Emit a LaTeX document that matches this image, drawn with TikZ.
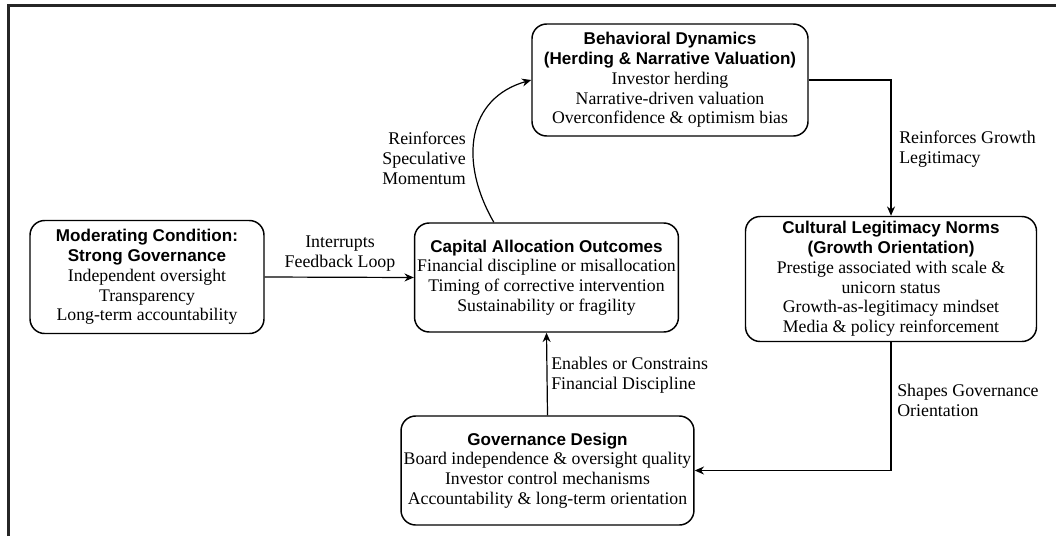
\documentclass[tikz,border=0pt]{standalone}
\usepackage{fontspec}
\setmainfont{Liberation Serif}
\newfontfamily\hdfont{Liberation Sans}
\usetikzlibrary{arrows.meta,calc}
\newcommand{\hd}[1]{{\hdfont\bfseries\fontsize{12.8}{14.8}\selectfont #1}}
\begin{document}
\begin{tikzpicture}[x=0.75pt,y=-0.75pt,
  box/.style={draw,line width=1.1pt,rounded corners=11pt,align=center,inner sep=2pt,
    font=\fontsize{13.3}{14.8}\selectfont},
  lbl/.style={font=\fontsize{13.4}{15}\selectfont,inner sep=0pt},
  arr/.style={line width=0.9pt,-{Stealth[length=7pt,width=6pt]}}]
\useasboundingbox (0,0) rectangle (1056,536);
\draw[line width=2.3pt,black!85] (8.5,536) -- (8.5,5.5) -- (1056,5.5);
\node[box,minimum width=276*0.75pt,minimum height=112*0.75pt] (beh) at (670,80)
  {\hd{Behavioral Dynamics}\\\hd{(Herding \& Narrative Valuation)}\\Investor herding\\Narrative-driven valuation\\Overconfidence \& optimism bias};
\node[box,minimum width=234*0.75pt,minimum height=113*0.75pt] (mod) at (147,277)
  {\hd{Moderating Condition:}\\\hd{Strong Governance}\\Independent oversight\\Transparency\\Long-term accountability};
\node[box,minimum width=263*0.75pt,minimum height=109*0.75pt] (cap) at (546.5,277.5)
  {\hd{Capital Allocation Outcomes}\\Financial discipline or misallocation\\Timing of corrective intervention\\Sustainability or fragility};
\node[box,minimum width=291*0.75pt,minimum height=125*0.75pt] (cul) at (891,279)
  {\hd{Cultural Legitimacy Norms}\\\hd{(Growth Orientation)}\\Prestige associated with scale \&\\unicorn status\\Growth-as-legitimacy mindset\\Media \& policy reinforcement};
\node[box,minimum width=292*0.75pt,minimum height=109*0.75pt] (gov) at (547.5,470.5)
  {\hd{Governance Design}\\Board independence \& oversight quality\\Investor control mechanisms\\Accountability \& long-term orientation};
\draw[arr] (mod.east) -- (cap.west);
\draw[arr] (gov.north) -- (cap.south);
\coordinate (cs) at ($(cap.north west)+(80,0)$);
\draw[arr] (cs) .. controls (458,160) and (468,98) .. (beh.west);
\draw[arr] (beh.east) -| (cul.north);
\draw[arr] (cul.south) |- (gov.east);
\node[lbl,align=center] (l1) at (340,254) {Interrupts\\Feedback Loop};
\node[lbl,align=right,anchor=east] (l2) at (466,158) {Reinforces\\Speculative\\Momentum};
\node[lbl,align=left,anchor=west] (l3) at (899,149) {Reinforces Growth\\Legitimacy};
\node[lbl,align=left,anchor=west] (l4) at (551,375) {Enables or Constrains\\Financial Discipline};
\node[lbl,align=left,anchor=west] (l5) at (897,400) {Shapes Governance\\Orientation};
\end{tikzpicture}
\end{document}
